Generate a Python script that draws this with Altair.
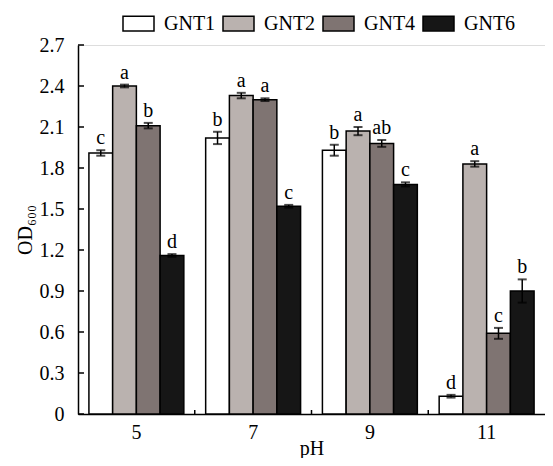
import altair as alt
import pandas as pd

ph = ["5", "7", "9", "11"]
strains = ["GNT1", "GNT2", "GNT4", "GNT6"]
colors = ["#ffffff", "#bab2af", "#7f7472", "#161616"]

gnt1 = [1.91, 2.02, 1.93, 0.13]
gnt2 = [2.40, 2.33, 2.07, 1.83]
gnt4 = [2.11, 2.30, 1.98, 0.59]
gnt6 = [1.16, 1.52, 1.68, 0.90]

err1 = [0.02, 0.045, 0.04, 0.01]
err2 = [0.01, 0.02, 0.03, 0.02]
err4 = [0.02, 0.01, 0.025, 0.04]
err6 = [0.01, 0.01, 0.015, 0.085]

let1 = ["c", "b", "b", "d"]
let2 = ["a", "a", "a", "a"]
let4 = ["b", "a", "ab", "c"]
let6 = ["d", "c", "c", "b"]

y_ticks = [0, 0.3, 0.6, 0.9, 1.2, 1.5, 1.8, 2.1, 2.4, 2.7]

rows = []
for s, m, e, l in zip(strains, [gnt1, gnt2, gnt4, gnt6], [err1, err2, err4, err6], [let1, let2, let4, let6]):
    for i, p in enumerate(ph):
        rows.append({"ph": p, "strain": s, "mean": m[i], "lo": m[i] - e[i], "hi": m[i] + e[i], "letter": l[i]})
df = pd.DataFrame(rows)

FONT = "Liberation Serif"
W, H = 467, 369

xscale = alt.Scale(domain=ph, paddingInner=0, paddingOuter=0)
xenc = alt.X("ph:N", sort=ph, title="pH", scale=xscale,
             axis=alt.Axis(labelAngle=0, ticks=False, labelPadding=8, titlePadding=-4,
                           labelFont=FONT, labelFontSize=20, titleFont=FONT, titleFontSize=20,
                           titleFontWeight="normal", labelColor="black", titleColor="black",
                           domainColor="black", domainWidth=1.5))
xoff = alt.XOffset("strain:N", sort=strains, scale=alt.Scale(paddingInner=0, paddingOuter=0.46))
yscale = alt.Scale(domain=[0, 2.7], nice=False)

base = alt.Chart(df).encode(x=xenc, xOffset=xoff)

legend = alt.Legend(
    title=None, orient="none", legendX=44, legendY=-38, direction="horizontal",
    symbolType="M-1,-0.47H1V0.47H-1Z", symbolSize=961,
    symbolStrokeColor="black", symbolStrokeWidth=1.5, symbolOpacity=1,
    labelFontSize=20, labelColor="black", labelOffset=9, columnPadding=4,
    labelLimit=0,
    labelFont=FONT,
)

bars = base.mark_bar(stroke="black", strokeWidth=1.5).encode(
    y=alt.Y("mean:Q", scale=yscale, title="OD₆₀₀",
            axis=alt.Axis(values=y_ticks, ticks=False, grid=False, labelPadding=14,
                          labelExpr="datum.value == 0 ? '0' : format(datum.value, '.1f')",
                          labelFont=FONT, labelFontSize=20, titleFont=FONT, titleFontSize=20,
                          titleFontWeight="normal", titlePadding=4, labelColor="black",
                          titleColor="black", domainColor="black", domainWidth=1.5)),
    color=alt.Color("strain:N", sort=strains, scale=alt.Scale(domain=strains, range=colors),
                    legend=legend),
)

err = base.mark_rule(color="black", strokeWidth=1.5).encode(y="lo:Q", y2="hi:Q")
cap_lo = base.mark_tick(color="black", thickness=2, size=9).encode(y="lo:Q")
cap_hi = base.mark_tick(color="black", thickness=2, size=9).encode(y="hi:Q")
letters = base.mark_text(baseline="bottom", dy=-2, font=FONT, fontSize=20, color="black").encode(
    y="hi:Q", text="letter:N")

tick_df = pd.DataFrame({"v": y_ticks})
yticks = alt.Chart(tick_df).mark_rule(color="black", strokeWidth=1.5).encode(
    y=alt.Y("v:Q", scale=yscale), x=alt.value(0), x2=alt.value(6))

xt_df = pd.DataFrame({"ph": ph[1:]})
xticks = alt.Chart(xt_df).mark_rule(color="black", strokeWidth=1.5).encode(
    x=alt.X("ph:N", sort=ph, scale=xscale, bandPosition=0), y=alt.value(H), y2=alt.value(H - 4))

chart = alt.layer(bars, err, cap_lo, cap_hi, letters, yticks, xticks).properties(
    width=W, height=H,
    autosize=alt.AutoSizeParams(type="none"),
    padding={"left": 70, "top": 37, "right": 0, "bottom": 44},
).configure_view(stroke=None).configure_legend(
    labelFont=FONT, labelFontSize=20, labelColor="black"
).configure_text(font=FONT).configure(background="white", font=FONT)

chart.save("out.html", embed_options={"renderer": "svg", "actions": False})
